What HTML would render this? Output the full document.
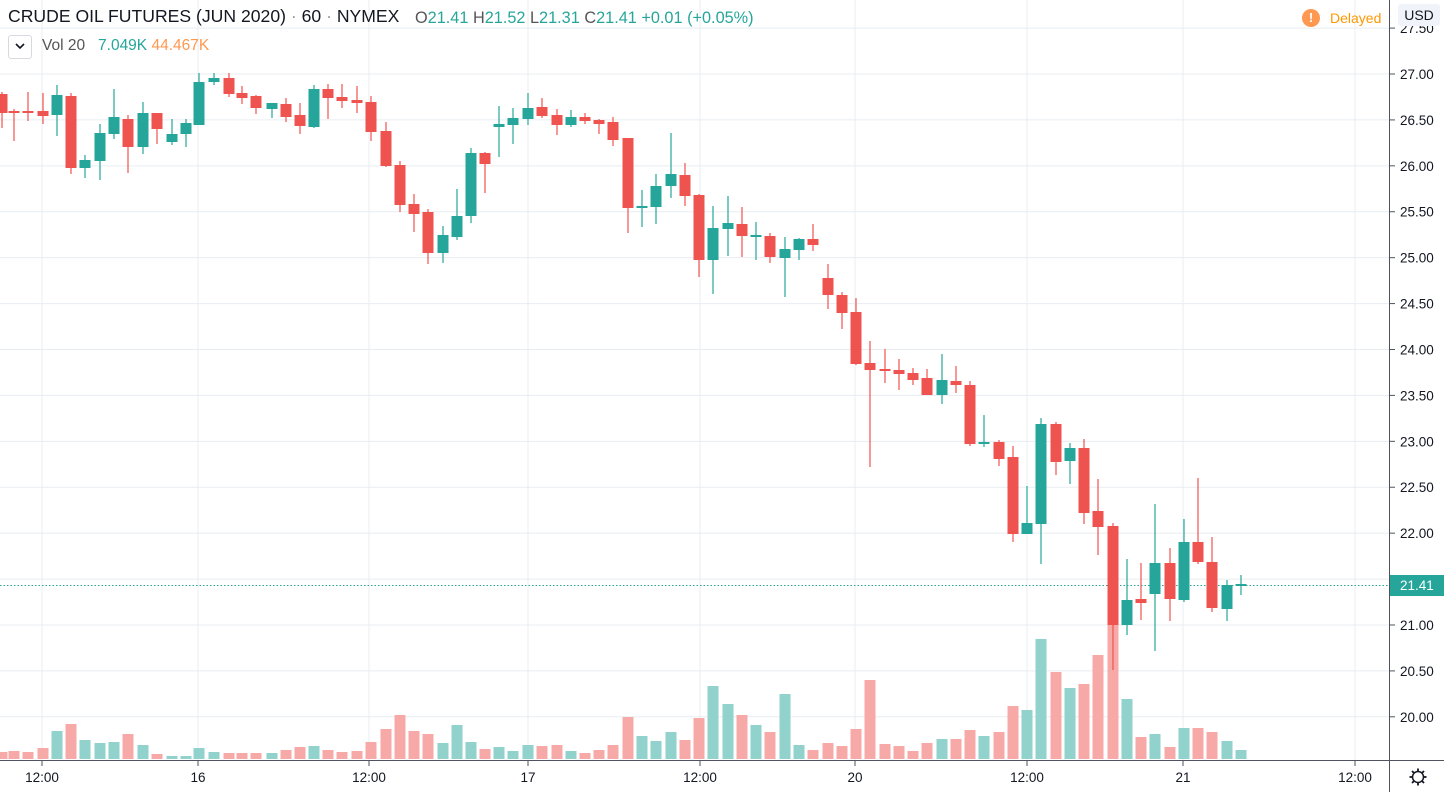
<!DOCTYPE html>
<html><head><meta charset="utf-8"><style>
body{margin:0;width:1444px;height:792px;overflow:hidden;background:#fff;font-family:"Liberation Sans",sans-serif;}
svg{position:absolute;left:0;top:0}
.t{position:absolute;white-space:nowrap}
</style></head><body>
<svg id="s" width="1444" height="792"></svg>
<div class="t" style="left:8px;top:6px;font-size:17.6px;color:#131722">CRUDE OIL FUTURES (JUN 2020) <span style="color:#999">·</span> 60 <span style="color:#999">·</span> NYMEX</div>
<div class="t" style="left:415px;top:9px;font-size:16.3px;color:#555">O<span style="color:#26a69a">21.41</span> H<span style="color:#26a69a">21.52</span> L<span style="color:#26a69a">21.31</span> C<span style="color:#26a69a">21.41 +0.01 (+0.05%)</span></div>
<div class="t" style="left:8px;top:35px;width:22px;height:22px;border:1px solid #d6d9e0;border-radius:3px;background:#fff"></div>
<svg style="left:14px;top:42px" width="12" height="8"><path d="M2 2 L6 6 L10 2" stroke="#131722" stroke-width="1.6" fill="none"/></svg>
<div class="t" style="left:42px;top:37px;font-size:15.5px;color:#555">Vol 20 &nbsp;&nbsp;<span style="color:#26a69a">7.049K</span> <span style="color:#ff9850">44.467K</span></div>
<div class="t" style="left:1302px;top:9px;width:18px;height:18px;border-radius:50%;background:#ff9850;color:#fff;font-size:13px;font-weight:bold;text-align:center;line-height:18px">!</div>
<div class="t" style="left:1330px;top:10px;font-size:14px;color:#ff9800">Delayed</div>
<div class="t" style="left:1398px;top:4px;width:42px;height:22px;background:#f0f3fa;border-radius:3px;font-size:14px;color:#131722;text-align:center;line-height:22px">USD</div>
<script>
const S=document.getElementById('s');let h='';
const py=p=>74+(27-p)*91.83;
for(let p=20;p<=27.5;p+=0.5){const y=py(p);h+=`<line x1="0" x2="1389" y1="${y}" y2="${y}" stroke="#e8edf2"/>`;}
[42,198,369,528,700,855,1027,1183,1355].forEach(x=>h+=`<line x1="${x}" x2="${x}" y1="0" y2="760" stroke="#e8edf2"/>`);
const xs=[2,14,28,43,57,71,85,100,114,128,143,157,172,186,199,214,229,242,256,272,286,300,314,328,342,357,371,386,400,414,428,443,457,471,485,499,513,528,542,557,571,585,599,613,628,642,656,671,685,699,713,728,742,756,770,785,799,813,828,842,856,870,885,899,913,927,942,956,970,984,999,1013,1027,1041,1056,1070,1084,1098,1113,1127,1141,1155,1170,1184,1198,1212,1227,1241];
const C=[['r',94,113,92,128],['r',111,113,109,141],['r',111,113,92,121],['r',111,116,93,124],['g',95,115,85,136],['r',96,168,93,174],['g',160,168,155,178],['g',133,161,124,180],['g',117,134,89,139],['r',119,147,115,173],['g',113,147,102,154],['r',113,129,113,144],['g',134,142,119,145],['g',123,134,119,147],['g',82,125,73,125],['g',78,82,73,85],['r',78,94,73,97],['r',93,98,86,104],['r',96,108,95,114],['g',103,109,103,118],['r',104,117,98,122],['r',115,126,103,134],['g',89,127,85,128],['r',89,98,84,119],['r',97,101,84,108],['r',100,103,86,113],['r',102,132,96,141],['r',131,166,122,167],['r',165,205,161,212],['r',204,214,194,232],
['r',212,253,209,264],['g',235,253,226,263],['g',216,237,189,240],['g',153,216,148,223],['r',153,164,152,193],['g',124,127,106,157],['g',118,125,108,144],['g',108,119,93,125],['r',107,116,98,118],['r',115,125,109,135],['g',117,125,110,127],['r',117,121,113,124],['r',120,124,119,134],['r',122,140,117,146],['r',138,208,138,233],['g',206,208,190,227],['g',186,207,174,224],['g',174,186,133,198],['r',175,196,163,206],['r',195,260,194,277],['g',228,260,206,294],['g',223,229,196,256],['r',224,236,207,257],['g',235,237,222,260],['r',236,257,233,263],['g',249,258,237,297],['g',239,250,238,260],['r',239,245,224,251],
['r',278,295,264,309],['r',295,313,292,329],['r',312,364,298,365],['r',363,370,341,467],['r',369,371,349,383],['r',370,374,359,390],['r',373,380,368,385],['r',378,395,369,395],['g',380,395,354,404],['r',381,385,366,393],['r',385,444,381,446],['g',442,444,415,447],['r',442,459,440,466],['r',457,534,446,542],['g',523,534,486,534],['g',424,524,418,564],['r',424,462,422,475],['g',448,461,443,484],['r',448,513,439,524],['r',511,527,479,555],['r',526,625,523,670],['g',600,625,559,635],['r',599,603,563,620],['g',563,594,504,651],['r',563,599,548,621],['g',542,600,519,602],['r',542,562,478,564],['r',562,608,537,612],['g',585,609,580,621],['g',584,586,575,595]];
const V=[366,363,366,354,303,282,330,339,336,312,345,372,378,378,354,366,369,369,369,369,360,351,348,360,366,363,336,297,255,303,312,339,285,336,357,351,363,345,348,345,363,369,360,345,
261,318,333,306,330,264,168,222,255,285,306,192,345,360,339,348,297,150,342,348,363,339,327,327,300,318,306,228,240,27,126,174,162,75,-186,207,321,312,351,294,294,306,333,360];
xs.forEach((x,i)=>{const t=630+V[i]/3;const col=C[i][0]=='r'?'#f7a9a7':'#92d2cc';h+=`<rect x="${x-5.5}" y="${t}" width="11" height="${759-t}" fill="${col}"/>`;});
h+=`<line x1="0" x2="1389" y1="585.5" y2="585.5" stroke="#26a69a" stroke-dasharray="1.5,2"/>`;
xs.forEach((x,i)=>{const c=C[i];const col=c[0]=='r'?'#ef5350':'#26a69a';
h+=`<line x1="${x}" x2="${x}" y1="${c[3]}" y2="${c[4]}" stroke="${col}" stroke-width="1.2"/>`;
h+=`<rect x="${x-5.5}" y="${c[1]}" width="11" height="${Math.max(1.5,c[2]-c[1])}" fill="${col}"/>`;});
h+=`<line x1="0" x2="1444" y1="760.5" y2="760.5" stroke="#50535e"/>`;
h+=`<rect x="1390" y="0" width="54" height="760" fill="#fff"/>`;
h+=`<line x1="1389.5" x2="1389.5" y1="0" y2="792" stroke="#50535e"/>`;
for(let p=20;p<=27.5;p+=0.5){const y=py(p);if(Math.abs(y-585)<12)continue;h+=`<line x1="1390" x2="1395" y1="${y}" y2="${y}" stroke="#50535e"/><text x="1400" y="${y+5}" font-size="13.5" fill="#131722" font-family="Liberation Sans">${p.toFixed(2)}</text>`;}
h+=`<rect x="1390" y="575" width="54" height="21" fill="#26a69a"/><text x="1400" y="590" font-size="13.5" fill="#fff" font-family="Liberation Sans">21.41</text>`;
[[42,'12:00'],[198,'16'],[369,'12:00'],[528,'17'],[700,'12:00'],[855,'20'],[1027,'12:00'],[1183,'21'],[1355,'12:00']].forEach(([x,l])=>{h+=`<line x1="${x}" x2="${x}" y1="761" y2="766" stroke="#50535e"/><text x="${x}" y="782" font-size="13.5" fill="#131722" text-anchor="middle" font-family="Liberation Sans">${l}</text>`;});
h+=`<rect x="1390" y="761" width="54" height="31" fill="#fff"/><circle cx="1418" cy="777" r="5.5" fill="none" stroke="#131722" stroke-width="1.5"/>`;
for(let a=0;a<8;a++){const r=a*Math.PI/4;h+=`<line x1="${1418+6*Math.cos(r)}" y1="${777+6*Math.sin(r)}" x2="${1418+8.5*Math.cos(r)}" y2="${777+8.5*Math.sin(r)}" stroke="#131722" stroke-width="1.8"/>`;}
S.innerHTML=h;
</script>
</body></html>
